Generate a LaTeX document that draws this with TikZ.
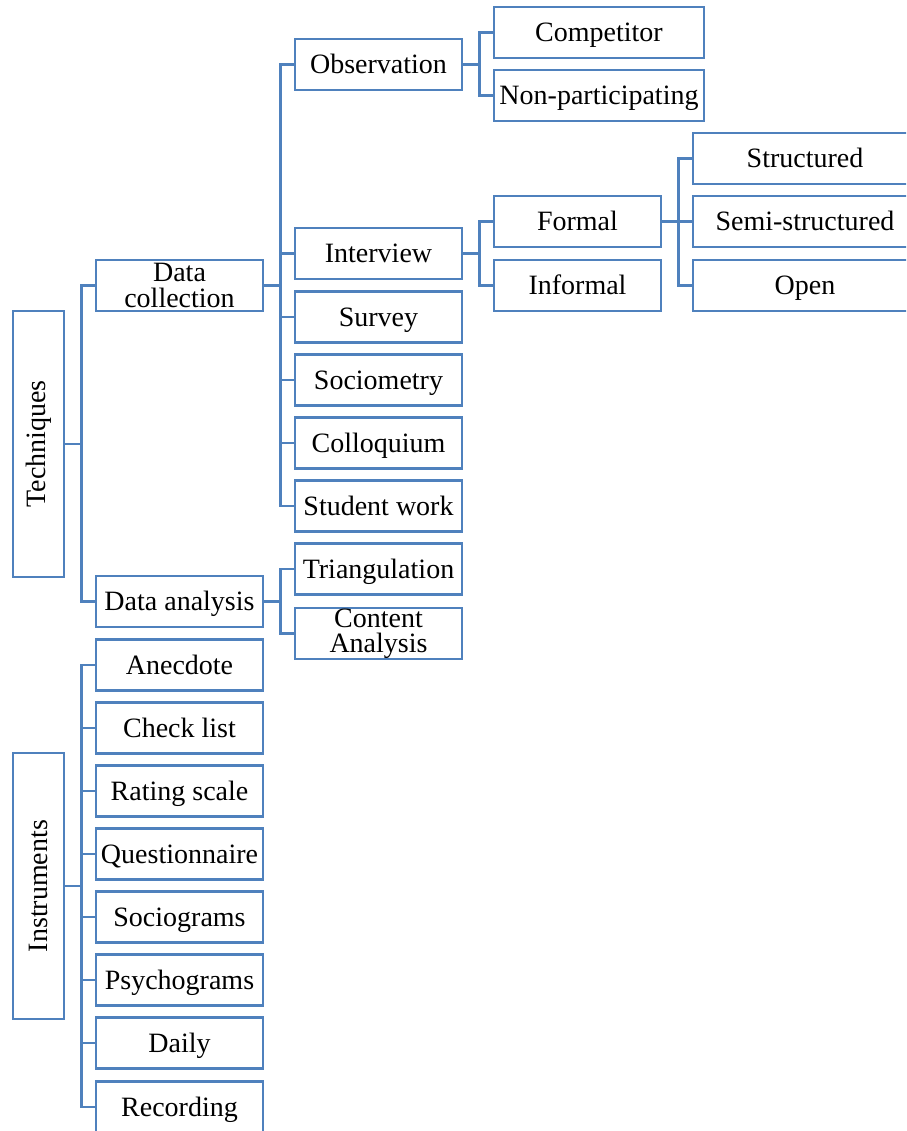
\documentclass[tikz,border=0pt]{standalone}
\usepackage{fontspec}
\setmainfont{Liberation Serif}
\definecolor{boxblue}{HTML}{4F81BD}
\begin{document}
\begin{tikzpicture}[x=1pt,y=-1pt,
  boxbase/.style={draw=boxblue,line width=2.8pt,fill=white,inner sep=0pt,minimum height=51pt,
    align=center,font=\fontsize{28}{25.5}\selectfont},
  box/.style={boxbase,text height=19pt,text depth=0.5pt},
  wA/.style={box,minimum width=167pt},
  twoline/.style={boxbase,minimum width=167pt},
  wB/.style={box,minimum width=210pt},
  wC/.style={box,minimum width=224pt},
  vert/.style={boxbase,minimum width=51pt,minimum height=266pt},
  conn/.style={draw=boxblue,line width=2.8pt}]
\clip (0,0) rectangle (906,1131);
% level 0
\node[vert] (tech) at (38.5,444) {\rotatebox{90}{Techniques}};
\node[vert] (inst) at (38.5,886) {\rotatebox{90}{Instruments}};
% level 1
\node[twoline] (dc) at (179.5,285.5) {Data\\collection};
\node[wA] (da) at (179.5,601.5) {Data analysis};
\node[wA] (anec) at (179.5,665) {Anecdote};
\node[wA] (check) at (179.5,728) {Check list};
\node[wA] (rating) at (179.5,791) {Rating scale};
\node[wA] (quest) at (179.5,854) {Questionnaire};
\node[wA] (sgram) at (179.5,917) {Sociograms};
\node[wA] (pgram) at (179.5,980) {Psychograms};
\node[wA] (daily) at (179.5,1043) {Daily};
\node[wA] (rec) at (179.5,1107) {Recording};
% level 2
\node[wA] (obs) at (378.5,64.5) {Observation};
\node[wA] (int) at (378.5,253.5) {Interview};
\node[wA] (survey) at (378.5,317) {Survey};
\node[wA] (socio) at (378.5,380) {Sociometry};
\node[wA] (coll) at (378.5,443) {Colloquium};
\node[wA] (sw) at (378.5,506) {Student work};
\node[wA] (tri) at (378.5,569) {Triangulation};
\node[twoline] (ca) at (378.5,633.5) {Content\\Analysis};
% level 3
\node[wB] (comp) at (599,32.5) {Competitor};
\node[wB] (nonp) at (599,95.5) {Non-participating};
\node[wA] (formal) at (577.5,221.5) {Formal};
\node[wA] (informal) at (577.5,285.5) {Informal};
% level 4
\node[wC] (struct) at (805,158.5) {Structured};
\node[wC] (semi) at (805,221.5) {Semi-structured};
\node[wC] (open) at (805,285.5) {Open};
% connectors
\foreach \c in {dc,da} \draw[conn] (tech.east) -- ++(16,0) |- (\c.west);
\foreach \c in {anec,check,rating,quest,sgram,pgram,daily,rec} \draw[conn] (inst.east) -- ++(16,0) |- (\c.west);
\foreach \c in {obs,int,survey,socio,coll,sw} \draw[conn] (dc.east) -- ++(16,0) |- (\c.west);
\foreach \c in {tri,ca} \draw[conn] (da.east) -- ++(16,0) |- (\c.west);
\foreach \c in {comp,nonp} \draw[conn] (obs.east) -- ++(16,0) |- (\c.west);
\foreach \c in {formal,informal} \draw[conn] (int.east) -- ++(16,0) |- (\c.west);
\foreach \c in {struct,semi,open} \draw[conn] (formal.east) -- ++(16,0) |- (\c.west);
\end{tikzpicture}
\end{document}
